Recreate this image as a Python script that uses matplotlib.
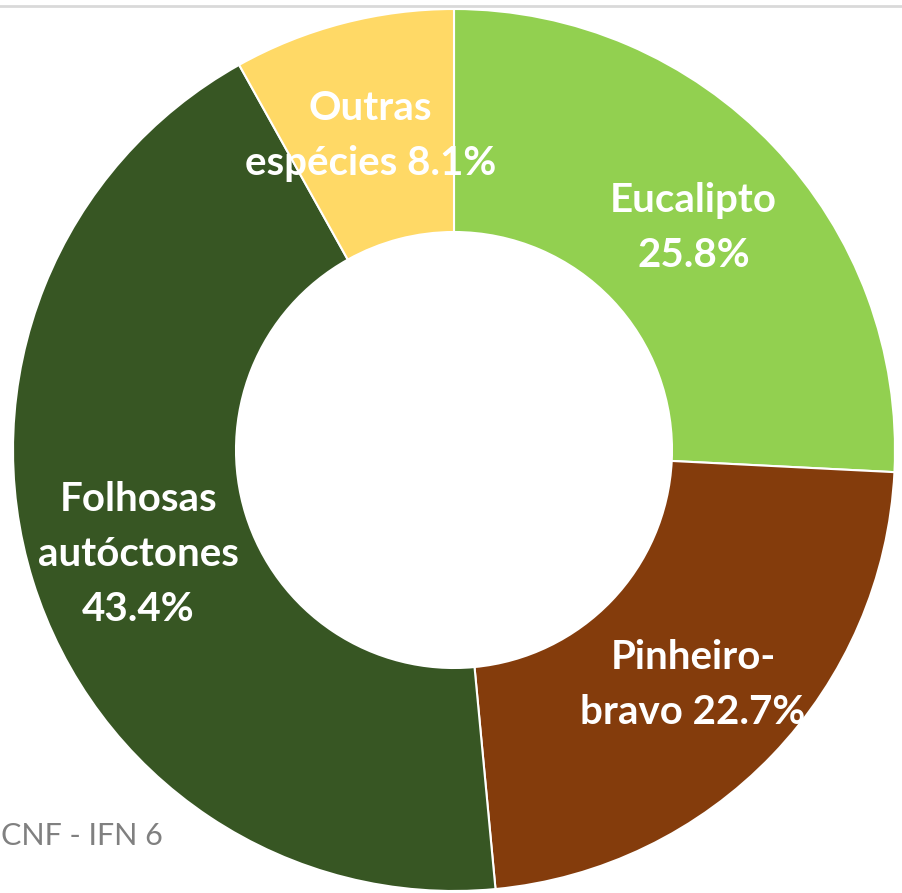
import numpy as np
import matplotlib
matplotlib.use("Agg")
import matplotlib.pyplot as plt
from matplotlib.lines import Line2D

# data
labels = ["Eucalipto", "Pinheiro-\nbravo", "Folhosas\nautóctones", "Outras\nespécies"]
shares = [25.8, 22.7, 43.4, 8.1]
pct_sep = ["\n", " ", "\n", " "]
colors = ["#92D050", "#843C0C", "#375623", "#FFD966"]
source = "CNF - IFN 6"

W, H = 903, 893
fig = plt.figure(figsize=(W / 100, H / 100), dpi=100)
ax = fig.add_axes([0, 0, 1, 1])

cx, cy = 454, H - 450
R = 441
ring = 223

wedges, _ = ax.pie(shares, colors=colors, startangle=90, counterclock=False,
                   radius=R, center=(cx, cy),
                   wedgeprops=dict(width=ring, edgecolor="white", linewidth=1.5))

ax.set_xlim(0, W)
ax.set_ylim(0, H)
ax.set_aspect("auto")
ax.axis("off")

# labels at ~0.75 R on each slice's mid-angle (nudged down a bit, Lato sits high)
for w, lab, v, sep in zip(wedges, labels, shares, pct_sep):
    ang = np.deg2rad((w.theta1 + w.theta2) / 2)
    r = 0.75 * R
    x = cx + r * np.cos(ang)
    y = cy + r * np.sin(ang) - 6
    ax.text(x, y, f"{lab}{sep}{v:.1f}%", ha="center", va="center",
            color="white", fontsize=29, fontweight="bold", family="Lato",
            linespacing=1.6)

# source note, bottom-left
ax.text(1, H - 836, source, ha="left", va="center", color="#808080",
        fontsize=22, family="Lato")

# thin grey rule at the top
fig.add_artist(Line2D([0, 1], [1 - 6 / H, 1 - 6 / H], color="#d9d9d9", lw=2,
                      transform=fig.transFigure))

fig.savefig("out.png", dpi=100)
